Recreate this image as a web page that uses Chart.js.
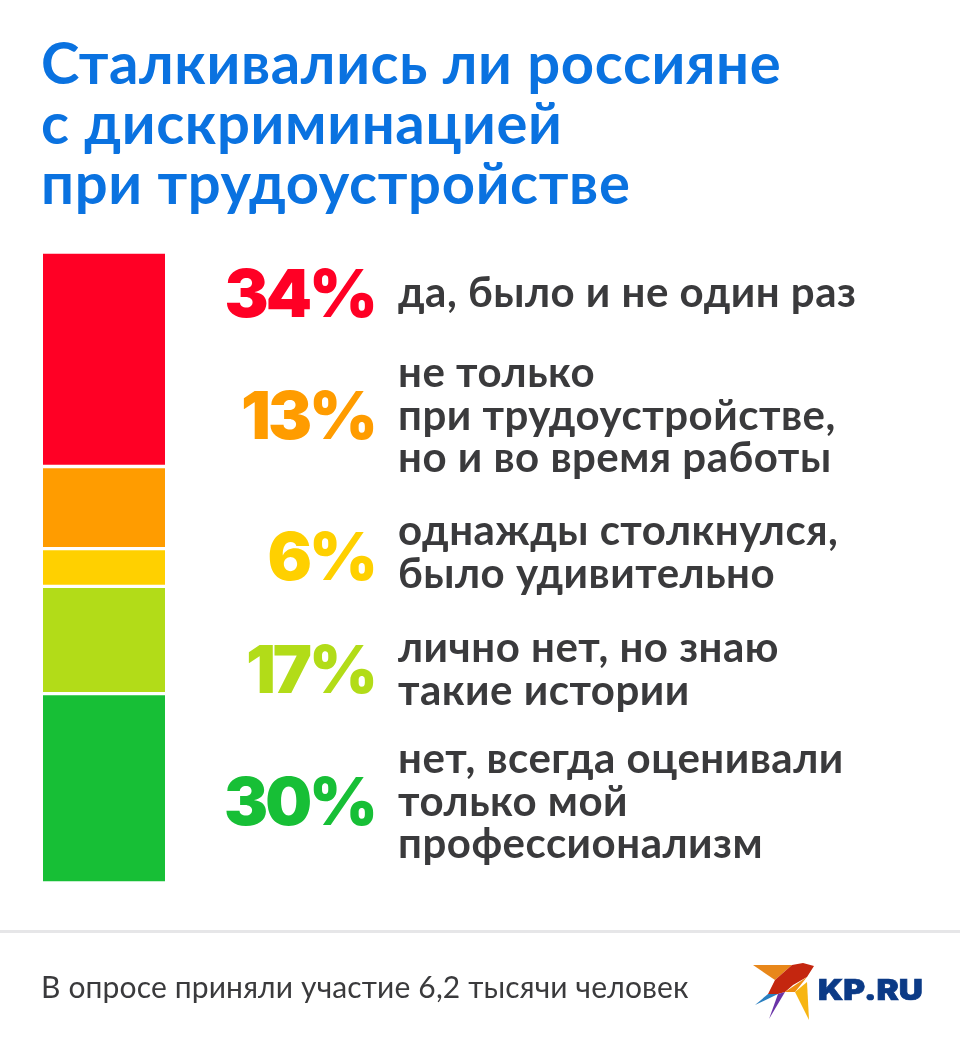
<!DOCTYPE html>
<html lang="ru">
<head>
<meta charset="utf-8">
<title>Дискриминация при трудоустройстве</title>
<script src="https://cdn.jsdelivr.net/npm/chart.js@4/dist/chart.umd.min.js"></script>
<style>
  html, body { margin: 0; padding: 0; background: #fff; }
  #wrap { position: relative; width: 960px; height: 1051px; overflow: hidden; font-family: Lato, sans-serif; }
  #chart { position: absolute; left: 0; top: 0; }
  .title { position: absolute; left: 41px; top: 32px; font-size: 58px; line-height: 60px; font-weight: 700; letter-spacing: 0.65px; color: #0a72e0; white-space: nowrap; }
  .rule { position: absolute; left: 0; top: 930px; width: 960px; height: 3px; background: #e6e6e8; }
  .note { position: absolute; left: 41px; top: 969px; font-size: 30px; line-height: 34px; letter-spacing: 0.15px; color: #3a3a3c; white-space: nowrap; }
  .brand { position: absolute; left: 818px; top: 972px; font-family: Inter, sans-serif; font-size: 29px; line-height: 35px; font-weight: 900; color: #0b3a86; -webkit-text-stroke: 0.7px #0b3a86; white-space: nowrap; transform-origin: left center; transform: scaleX(1.15); }
</style>
</head>
<body>
<div id="wrap">
  <canvas id="chart" width="960" height="1051"></canvas>
  <div class="title">Сталкивались ли россияне<br>с дискриминацией<br>при трудоустройстве</div>
  <div class="rule"></div>
  <div class="note">В опросе приняли участие 6,2 тысячи человек</div>
  <svg style="position:absolute;left:0;top:0" width="960" height="1051" viewBox="0 0 960 1051">
    <polygon points="753,965 792,965 775,980" fill="#e8871a"/>
    <polygon points="775,980 792,965 803,963 814,966 807,977 793,985 785,992 778,994 768,994" fill="#c4260f"/>
    <polygon points="755,1005 768,994 778,994" fill="#2a7fc0"/>
    <polygon points="785,992 769,1019 778,994" fill="#6a34a8"/>
    <polygon points="785,992 807,977 795,992" fill="#ee8c12"/>
    <polygon points="795,992 807,982 809,1020" fill="#f7b512"/>
  </svg>
  <div class="brand">KP.RU</div>
</div>
<script>
const categories = ['да, было и не один раз', 'не только при трудоустройстве, но и во время работы', 'однажды столкнулся, было удивительно', 'лично нет, но знаю такие истории', 'нет, всегда оценивали только мой профессионализм'];
const wrappedLabels = [
  ['да, было и не один раз'],
  ['не только', 'при трудоустройстве,', 'но и во время работы'],
  ['однажды столкнулся,', 'было удивительно'],
  ['лично нет, но знаю', 'такие истории'],
  ['нет, всегда оценивали', 'только мой', 'профессионализм']
];
const values = [34, 13, 6, 17, 30];
const colors = ['#ff0025', '#ff9c00', '#ffd000', '#b2dc18', '#17bf36'];
const textMid = [293, 416, 553, 670, 802];
const percentMid = [297, 419, 560, 673, 805];

// percentages and captions beside each stacked segment
const sideLabels = {
  id: 'sideLabels',
  afterDatasetsDraw(chart) {
    const ctx = chart.ctx;
    values.forEach((v, i) => {
      ctx.save();
      ctx.textBaseline = 'middle';
      ctx.textAlign = 'right';
      ctx.fillStyle = colors[i];
      ctx.font = '900 66px Inter, sans-serif';
      ctx.letterSpacing = '-3px';
      ctx.fillText(v + '%', 375, percentMid[i]);
      ctx.textAlign = 'left';
      ctx.fillStyle = '#3a3a3c';
      ctx.font = '700 42px Lato, sans-serif';
      ctx.letterSpacing = '0.5px';
      const lines = wrappedLabels[i];
      lines.forEach((line, k) => {
        ctx.fillText(line, 398, textMid[i] + (k - (lines.length - 1) / 2) * 42.5);
      });
      ctx.restore();
    });
  }
};

new Chart(document.getElementById('chart'), {
  type: 'bar',
  data: {
    labels: [''],
    datasets: values.map((v, i) => ({
      label: categories[i],
      data: [v],
      backgroundColor: colors[i],
      borderColor: '#fff',
      borderWidth: { top: 2, bottom: 2, left: 0, right: 0 },
      borderSkipped: false,
      barPercentage: 1,
      categoryPercentage: 1
    }))
  },
  options: {
    responsive: false,
    animation: false,
    layout: { padding: { left: 43, top: 252, right: 795, bottom: 168 } },
    plugins: { legend: { display: false }, tooltip: { enabled: false } },
    scales: {
      x: { stacked: true, display: false },
      y: { stacked: true, display: false, reverse: true, min: 0, max: 100 }
    }
  },
  plugins: [sideLabels]
});
</script>
</body>
</html>
